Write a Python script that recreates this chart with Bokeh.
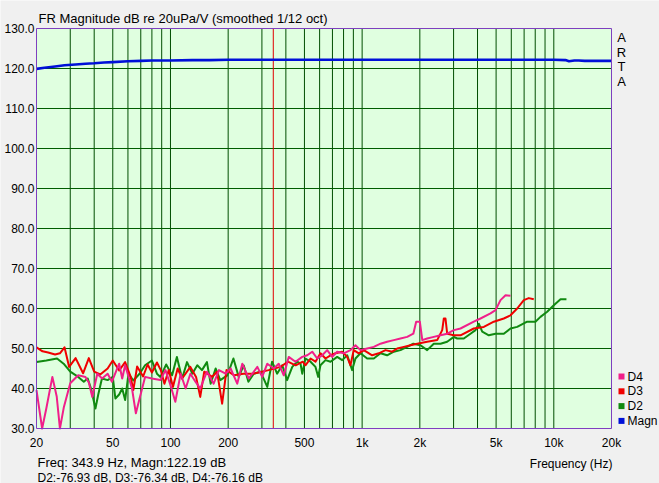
from bokeh.plotting import figure
from bokeh.models import Range1d
from bokeh.core.properties import value
from bokeh.embed import file_html
from bokeh.resources import INLINE

# ---------------- data ----------------
magn_f = [20, 22, 25, 28, 32, 36, 40, 45, 50, 60, 70, 80, 100, 130, 160, 200, 300, 500, 1000,
          2000, 5000, 8000, 10000, 11500, 12000, 12800, 13500, 14500, 20000]
magn_db = [119.9, 120.2, 120.5, 120.8, 121.0, 121.2, 121.3, 121.5, 121.6, 121.8, 121.9, 122.0, 122.0,
           122.1, 122.1, 122.2, 122.2, 122.2, 122.2, 122.2, 122.2, 122.2, 122.2, 122.1, 121.8, 122.0,
           122.0, 121.9, 121.9]

d2_f = [20, 22.5, 25.6, 27.7, 30, 33, 35.3, 37, 38.5, 40.6, 42, 43.9, 47, 50, 51.6, 54, 56, 58, 60.4, 64,
        69, 73.7, 80, 85, 88.6, 95, 102, 108, 115, 122, 130, 138, 146, 155, 162, 172, 182, 198, 213, 227,
        241, 255, 272, 295, 320, 339, 360, 383, 406, 432, 458, 477, 487, 506, 538, 571, 590, 606, 644, 684,
        741, 787, 836, 887, 923, 980, 1062, 1150, 1247, 1350, 1463, 1585, 1718, 1850, 2016, 2184, 2365,
        2564, 2778, 3010, 3134, 3392, 3676, 3904, 4060, 4232, 4580, 4966, 5484, 5944, 6440, 7260, 8020,
        8520, 9235, 10000, 10840, 11640]
d2_db = [46.6, 47.0, 47.5, 46.2, 44.2, 42.9, 41.7, 42.5, 40.0, 35.0, 38.5, 42.5, 42.1, 42.9, 37.5, 38.5,
         40.0, 37.1, 43.7, 42.0, 43.7, 45.8, 47.0, 43.7, 42.9, 46.0, 43.3, 47.9, 42.5, 46.6, 43.7, 45.8,
         44.6, 46.6, 41.2, 45.0, 42.1, 43.3, 47.5, 42.9, 45.8, 41.7, 43.7, 44.2, 40.4, 46.7, 43.7, 45.8,
         42.1, 45.4, 46.7, 46.2, 43.7, 47.5, 46.7, 45.4, 42.9, 45.8, 47.1, 46.7, 47.9, 47.1, 48.3, 44.6,
         47.5, 48.8, 47.5, 47.5, 48.8, 48.3, 49.2, 49.6, 50.4, 51.2, 50.8, 49.6, 51.2, 51.2, 51.7, 52.9,
         52.5, 52.5, 53.7, 54.6, 56.2, 54.2, 53.3, 53.7, 53.7, 55.0, 55.4, 56.7, 56.7, 57.9, 59.2, 60.8,
         62.3, 62.3]

d3_f = [20, 21.5, 23, 25, 26.5, 28, 29.6, 32, 35, 37.5, 40, 43, 47, 50, 54, 58, 62, 64, 67, 72, 76, 80,
        85, 89, 93, 98, 103, 109, 115, 127, 136, 143, 150, 165, 175, 186, 196, 215, 240, 270, 300, 325,
        375, 410, 450, 490, 506, 538, 571, 606, 644, 684, 726, 787, 836, 869, 904, 960, 1020, 1128, 1222,
        1324, 1435, 1524, 1650, 1788, 1938, 2184, 2464, 2617, 2668, 2722, 2778, 3010, 3260, 3824, 4314,
        4864, 5484, 5944, 6440, 6976, 7404, 7862]
d3_db = [50.3, 49.3, 49.0, 48.5, 48.8, 50.3, 45.4, 47.6, 43.8, 47.6, 44.2, 43.5, 45.0, 47.0, 44.5, 46.6,
         42.9, 39.6, 45.5, 43.0, 46.0, 44.0, 46.5, 44.6, 41.2, 44.6, 40.4, 45.0, 42.5, 45.4, 42.9, 37.9,
         44.2, 42.9, 44.2, 36.2, 44.6, 43.3, 43.7, 43.7, 44.2, 44.6, 45.4, 46.7, 45.8, 46.7, 45.8, 47.5,
         46.7, 48.8, 47.5, 48.3, 48.8, 49.2, 47.9, 45.8, 49.6, 48.8, 49.6, 48.3, 48.8, 49.6, 49.2, 50.0,
         50.4, 50.8, 51.2, 51.7, 52.1, 54.6, 57.5, 57.5, 53.7, 53.3, 53.3, 55.0, 55.4, 56.7, 57.5, 58.3,
         60.0, 62.1, 62.6, 62.3]

d4_f = [20, 21.4, 22.5, 24.2, 25.5, 26.5, 27.8, 30, 33, 36, 37.5, 39.1, 41.5, 44, 47, 49.5, 54, 56, 58,
        63, 66, 69, 73.7, 80, 88.6, 94.2, 100, 106, 113, 120, 127, 135, 143, 155, 168, 179, 194, 206, 223,
        237, 256, 284, 301, 320, 346, 367, 390, 414, 449, 487, 517, 549, 583, 619, 657, 698, 741, 802,
        869, 923, 980, 1062, 1150, 1247, 1350, 1463, 1585, 1718, 1850, 1914, 2000, 2060, 2184, 2365,
        2564, 2778, 3010, 3260, 3824, 4145, 4674, 4966, 5272, 5600, 5944]
d4_db = [39.6, 30.0, 35.0, 42.9, 38.0, 30.0, 35.4, 41.3, 43.3, 42.9, 41.5, 37.9, 43.7, 42.5, 43.7, 41.7,
         46.2, 42.5, 45.8, 40.0, 33.8, 37.5, 42.9, 42.5, 42.1, 44.6, 40.8, 36.7, 43.7, 40.0, 43.7, 41.7,
         40.0, 44.2, 41.2, 44.6, 43.7, 45.0, 41.2, 46.2, 42.5, 45.4, 42.9, 46.2, 45.0, 46.2, 43.3, 47.9,
         46.7, 47.9, 48.3, 49.2, 47.5, 48.3, 49.6, 47.9, 49.2, 48.8, 49.6, 50.8, 49.6, 50.0, 50.4, 51.2,
         51.7, 52.1, 52.5, 52.9, 53.7, 56.7, 56.7, 52.1, 52.5, 52.9, 53.3, 53.7, 54.6, 55.0, 56.7, 57.5,
         58.8, 59.6, 62.1, 63.3, 63.2]

cursor_freq = 343.9
f_min, f_max = 20, 20000
db_min, db_max = 30, 130
y_ticks = [30, 40, 50, 60, 70, 80, 90, 100, 110, 120, 130]
x_ticks = [20, 50, 100, 200, 500, 1000, 2000, 5000, 10000, 20000]
x_tick_labels = ["20", "50", "100", "200", "500", "1k", "2k", "5k", "10k", "20k"]
x_grid = [30, 40, 50, 60, 70, 80, 90, 100, 200, 300, 400, 500, 600, 700, 800, 900, 1000,
          2000, 3000, 4000, 5000, 6000, 7000, 8000, 9000, 10000]
y_grid = [40, 50, 60, 70, 80, 90, 100, 110, 120]
legend_names = ["D4", "D3", "D2", "Magn"]

title_text = "FR Magnitude dB re 20uPa/V (smoothed 1/12 oct)"
info1 = "Freq: 343.9 Hz, Magn:122.19 dB"
info2 = "D2:-76.93 dB, D3:-76.34 dB, D4:-76.16 dB"
xlabel = "Frequency (Hz)"
side_text = "ARTA"

# ---------------- layout / styling ----------------
W, H = 659, 483
FL, FR_, FT, FB = 36, 611, 28, 428          # plotting box in page pixels
PX_DEC = (FR_ - FL) / 3.0
PX_DB = (FB - FT) / float(db_max - db_min)


def fx(px):
    return f_min * 10 ** ((px - FL) / PX_DEC)


def dy(py):
    return db_max - (py - FT) / PX_DB


FONT = value("Liberation Sans")
FS = value("12px")
C_MAGN = "#0010D8"
C_D2 = "#108A10"
C_D3 = "#F00000"
C_D4 = "#F0208A"
legend_colors = [C_D4, C_D3, C_D2, C_MAGN]
GRID = "#004E00"

p = figure(width=W, height=H, x_axis_type="log",
           x_range=Range1d(fx(0), fx(W)), y_range=Range1d(dy(H), dy(0)),
           x_axis_location=None, y_axis_location=None,
           output_backend="svg", toolbar_location=None,
           min_border=0, min_border_left=0, min_border_right=0, min_border_top=0, min_border_bottom=0)
p.grid.visible = False
p.background_fill_color = "#F0F0F0"
p.border_fill_color = "#F0F0F0"
p.outline_line_color = None

# plotting area background
p.quad(left=[f_min], right=[f_max], bottom=[db_min], top=[db_max], fill_color="#E0FFE0", line_color=None)

# grid
p.segment(x0=x_grid, y0=[db_min] * len(x_grid), x1=x_grid, y1=[db_max] * len(x_grid),
          line_color=GRID, line_width=1)
p.segment(x0=[f_min] * len(y_grid), y0=y_grid, x1=[f_max] * len(y_grid), y1=y_grid,
          line_color="#005C00", line_width=1)

# cursor
p.segment(x0=[cursor_freq], y0=[db_min], x1=[cursor_freq], y1=[db_max], line_color="#E00000", line_width=1)

# curves
p.line(d2_f, d2_db, line_color=C_D2, line_width=2, line_join="round")
p.line(d3_f, d3_db, line_color=C_D3, line_width=2, line_join="round")
p.line(d4_f, d4_db, line_color=C_D4, line_width=2, line_join="round")
p.line(magn_f, magn_db, line_color=C_MAGN, line_width=2.6, line_join="round")

# frame outline
p.quad(left=[f_min], right=[f_max], bottom=[db_min], top=[db_max], fill_alpha=0,
       line_color="#7F3FBF", line_width=1)

# axis tick labels
p.text(x=[fx(FL - 2)] * len(y_ticks), y=y_ticks, text=["%.1f" % v for v in y_ticks],
       text_font=FONT, text_font_size=FS, text_color="#000000",
       text_align="right", text_baseline="middle")
p.text(x=x_ticks, y=[dy(FB + 14)] * len(x_ticks), text=x_tick_labels,
       text_font=FONT, text_font_size=FS, text_color="#000000",
       text_align="center", text_baseline="middle")


def txt(s, px, py, align="left", size=FS):
    p.text(x=[fx(px)], y=[dy(py)], text=[s], text_font=FONT, text_font_size=size,
           text_color="#000000", text_align=align, text_baseline="middle")


txt(title_text, 38, 18, size=value("13px"))
for i, ch in enumerate(side_text):
    txt(ch, 621, 37 + i * 14.5, align="center", size=value("13px"))
txt(info1, 37, 462, size=value("13px"))
txt(info2, 37, 477)
txt(xlabel, 612, 463, align="right")

leg_y = [dy(376 + i * 14.8) for i in range(len(legend_names))]
p.scatter(x=[fx(621)] * len(legend_names), y=leg_y, marker="square", size=6,
          fill_color=legend_colors, line_color=None)
p.text(x=[fx(627)] * len(legend_names), y=leg_y, text=legend_names,
       text_font=FONT, text_font_size=FS, text_color="#000000",
       text_align="left", text_baseline="middle")

open("out.html", "w").write(file_html(p, INLINE))
